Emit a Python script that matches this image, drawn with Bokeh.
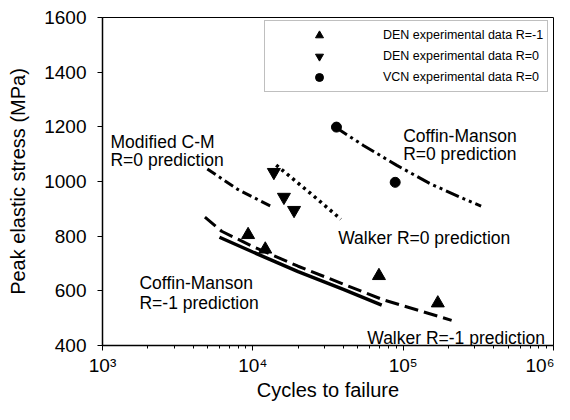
from bokeh.plotting import figure
from bokeh.models import (Range1d, FixedTicker, Legend, LegendItem, ColumnDataSource)
from bokeh.core.properties import value
from bokeh.embed import file_html
from bokeh.resources import INLINE

# ---- data ----
den_r1_cycles = [9300, 12100, 69000, 170000]
den_r1_stress = [805, 752, 655, 555]

den_r0_cycles = [13800, 16100, 18800]
den_r0_stress = [1034, 943, 895]

vcn_r0_cycles = [36000, 88500]
vcn_r0_stress = [1199, 997]

cm_r0_cycles = [35300, 54400, 90800, 151000, 252000, 330000]
cm_r0_stress = [1199, 1132, 1059, 992, 937, 910]

mcm_r0_cycles = [4980, 8000, 13600]
mcm_r0_stress = [1046, 970, 906]

walker_r0_cycles = [14300, 25000, 38500]
walker_r0_stress = [1060, 950, 862]

cm_r1_cycles = [6000, 10000, 20000, 40000, 72000]
cm_r1_stress = [796, 742, 670, 605, 548]

walker_r1_cycles = [4800, 6200, 10000, 20000, 73000, 210000]
walker_r1_stress = [870, 818, 762, 690, 568, 492]

x_major = [1e3, 1e4, 1e5, 1e6]
x_labels = ["10³", "10⁴", "10⁵", "10⁶"]
y_ticks = [400, 600, 800, 1000, 1200, 1400, 1600]

legend_labels = ["DEN experimental data R=-1",
                 "DEN experimental data R=0",
                 "VCN experimental data R=0"]

# annotation texts and anchors (data coordinates)
ann_text = ["Modified C-M", "R=0 prediction",
            "Coffin-Manson", "R=0 prediction",
            "Walker R=0 prediction",
            "Coffin-Manson", "R=-1 prediction",
            "Walker R=-1 prediction"]
ann_x = [1130, 1130, 100000, 100000, 37000, 1762, 1762, 57700]
ann_y = [1143, 1077, 1168, 1102, 792, 627, 557, 429]

FONT = "Liberation Sans"

p = figure(width=554, height=404, x_axis_type="log",
           x_range=Range1d(1e3, 1e6), y_range=Range1d(400, 1600),
           output_backend="svg", toolbar_location=None,
           min_border_left=102, min_border_right=1,
           min_border_top=17, min_border_bottom=59)
p.grid.visible = False
p.outline_line_color = "black"
p.outline_line_width = 1
p.background_fill_color = "white"
p.border_fill_color = "white"

# lines
p.line(cm_r0_cycles, cm_r0_stress, line_color="black", line_width=3,
       line_dash="14 4 3 4 3 4")
p.line(mcm_r0_cycles, mcm_r0_stress, line_color="black", line_width=3,
       line_dash="10 4 3 4")
p.line(walker_r0_cycles, walker_r0_stress, line_color="black", line_width=3.5,
       line_dash="3 4")
p.line(cm_r1_cycles, cm_r1_stress, line_color="black", line_width=3.5)
p.line(walker_r1_cycles, walker_r1_stress, line_color="black", line_width=3,
       line_dash="14 6")

# markers
r1 = p.scatter(den_r1_cycles, den_r1_stress, marker="triangle", size=13,
               fill_color="black", line_color="black")
r2 = p.scatter(den_r0_cycles, den_r0_stress, marker="inverted_triangle", size=13,
               fill_color="black", line_color="black")
r3 = p.scatter(vcn_r0_cycles, vcn_r0_stress, marker="circle", size=10,
               fill_color="black", line_color="black")

# annotations
src = ColumnDataSource(dict(x=ann_x, y=ann_y, t=ann_text))
p.text(x="x", y="y", text="t", source=src, text_font=value(FONT),
       text_font_size="17.5px", text_color="black",
       text_baseline="alphabetic", text_align="left")

# axes
xa = p.xaxis[0]
xa.ticker = FixedTicker(ticks=x_major,
                        minor_ticks=[m * d for d in (1e3, 1e4, 1e5) for m in range(2, 10)])
xa.major_label_overrides = {v: s for v, s in zip(x_major, x_labels)}
xa.axis_label = "Cycles to failure"
ya = p.yaxis[0]
ya.ticker = FixedTicker(ticks=y_ticks, minor_ticks=[])
ya.axis_label = "Peak elastic stress (MPa)"

for ax in (xa, ya):
    ax.axis_line_color = "black"
    ax.axis_line_width = 1.5
    ax.major_tick_line_color = "black"
    ax.major_tick_in = 0
    ax.major_tick_out = 5
    ax.minor_tick_in = 0
    ax.minor_tick_out = 3
    ax.minor_tick_line_color = "black"
    ax.major_label_text_font = FONT
    ax.major_label_text_font_size = "19px"
    ax.major_label_text_color = "black"
    ax.axis_label_text_font = FONT
    ax.axis_label_text_font_size = "20px"
    ax.axis_label_text_font_style = "normal"
    ax.axis_label_text_color = "black"
xa.major_label_standoff = 4
xa.axis_label_standoff = 0
ya.major_label_standoff = 11
ya.axis_label_standoff = 12
ya.minor_tick_line_color = None

legend = Legend(items=[LegendItem(label=legend_labels[0], renderers=[r1]),
                       LegendItem(label=legend_labels[1], renderers=[r2]),
                       LegendItem(label=legend_labels[2], renderers=[r3])],
                location=(162, 253), orientation="vertical",
                glyph_width=100, glyph_height=20, label_height=20,
                label_standoff=14, spacing=1, padding=4, margin=0,
                label_text_font=FONT, label_text_font_size="12.5px",
                label_text_color="black",
                border_line_color="#808080", border_line_width=1.5,
                background_fill_color="white", background_fill_alpha=1)
p.add_layout(legend, "center")

open("out.html", "w").write(file_html(p, INLINE))
